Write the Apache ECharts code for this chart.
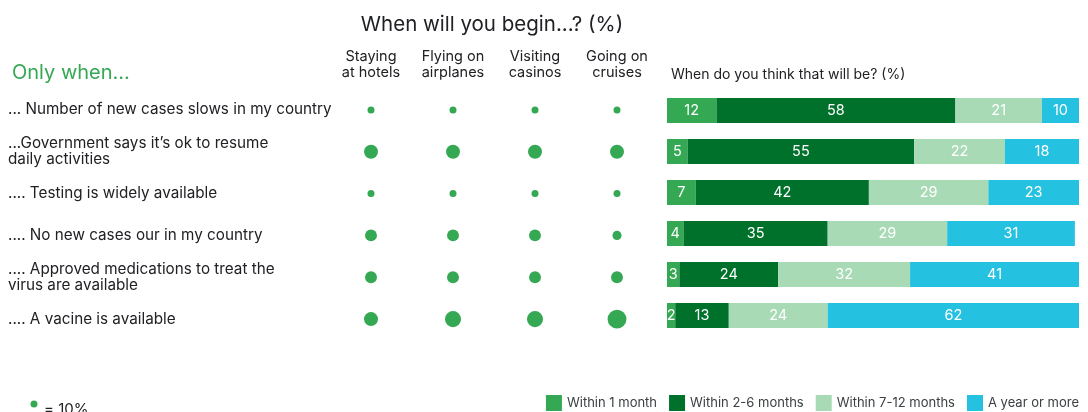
<!DOCTYPE html>
<html>
<head>
<meta charset="utf-8">
<script src="https://cdn.jsdelivr.net/npm/echarts@6/dist/echarts.min.js"></script>
<style>
  html, body { margin: 0; padding: 0; background: #fff; }
  #chart { width: 1088px; height: 412px; }
</style>
</head>
<body>
<div id="chart"></div>
<script>
// Row conditions ("Only when...")
const conditions = [
  '... Number of new cases slows in my country',
  '...Government says it\u2019s ok to resume\ndaily activities',
  '.... Testing is widely available',
  '.... No new cases our in my country',
  '.... Approved medications to treat the\nvirus are available',
  '.... A vacine is available'
];

// Activities (dot columns)
const activities = ['Staying\nat hotels', 'Flying on\nairplanes', 'Visiting\ncasinos', 'Going on\ncruises'];

// Share (%) per activity, one value per condition
const hotels    = [10, 20, 10, 17, 17, 20];
const airplanes = [10, 20, 10, 17, 17, 23];
const casinos   = [10, 20, 10, 17, 17, 23];
const cruises   = [10, 20, 10, 13, 17, 27];

// Timing (%) per condition
const timingNames = ['Within 1 month', 'Within 2-6 months', 'Within 7-12 months', 'A year or more'];
const within1   = [12,  5,  7,  4,  3,  2];
const within2_6 = [58, 55, 42, 35, 24, 13];
const within7_12= [21, 22, 29, 29, 32, 24];
const yearPlus  = [10, 18, 23, 31, 41, 62];

const GREEN = '#34a853';
const timingColors = ['#34a853', '#00712b', '#a8dab5', '#24c1e0'];
const TEXT = '#3c4043';
const FONT = 'Inter, Roboto, sans-serif';

// dot diameter grows with the share
const dotSize = v => v * 0.7;

const dotColumns = [hotels, airplanes, casinos, cruises];
const dotData = [];
dotColumns.forEach((col, ci) => col.forEach((v, ri) => dotData.push([ci, ri, v])));

const timingSeries = [within1, within2_6, within7_12, yearPlus].map((vals, i) => ({
  name: timingNames[i],
  type: 'bar',
  stack: 'timing',
  xAxisIndex: 1,
  yAxisIndex: 1,
  barWidth: 25,
  itemStyle: { color: timingColors[i] },
  label: {
    show: true,
    position: 'inside',
    color: '#fff',
    fontSize: 14.5,
    fontFamily: FONT
  },
  data: vals
}));

const chart = echarts.init(document.getElementById('chart'), null, { renderer: 'canvas' });

chart.setOption({
  animation: false,
  textStyle: { fontFamily: FONT },
  title: [
    {
      text: 'When will you begin...? (%)',
      left: 487, top: 9,
      textAlign: 'center',
      textStyle: { fontSize: 20.5, fontWeight: 'normal', color: '#202124', fontFamily: FONT }
    },
    {
      text: 'Only when...',
      left: 7, top: 58,
      textStyle: { fontSize: 20, fontWeight: 'normal', color: GREEN, fontFamily: FONT }
    },
    {
      text: 'When do you think that will be? (%)',
      left: 666, top: 63,
      textStyle: { fontSize: 14, fontWeight: 'normal', color: '#202124', fontFamily: FONT }
    }
  ],
  legend: {
    data: timingNames,
    right: 4,
    top: 390,
    itemWidth: 16,
    itemHeight: 16,
    itemGap: 12,
    icon: 'rect',
    textStyle: { fontSize: 13, color: TEXT, fontFamily: FONT, padding: [0, 0, 0, 0] }
  },
  grid: [
    { left: 330, width: 328, top: 89, height: 251 },
    { left: 667, right: 9, top: 90, height: 246 }
  ],
  xAxis: [
    {
      type: 'category',
      gridIndex: 0,
      position: 'top',
      data: activities,
      axisLine: { show: false },
      axisTick: { show: false },
      axisLabel: {
        interval: 0,
        margin: 8,
        fontSize: 14.5,
        lineHeight: 16,
        color: '#202124',
        fontFamily: FONT
      }
    },
    {
      type: 'value',
      gridIndex: 1,
      min: 0,
      max: 100,
      show: false
    }
  ],
  yAxis: [
    {
      type: 'category',
      gridIndex: 0,
      inverse: true,
      data: conditions,
      axisLine: { show: false },
      axisTick: { show: false },
      axisLabel: {
        align: 'left',
        margin: 322,
        fontSize: 15.25,
        lineHeight: 16,
        color: '#202124',
        fontFamily: FONT
      }
    },
    {
      type: 'category',
      gridIndex: 1,
      inverse: true,
      data: conditions,
      show: false
    }
  ],
  series: [
    {
      type: 'scatter',
      xAxisIndex: 0,
      yAxisIndex: 0,
      data: dotData,
      symbolSize: d => dotSize(d[2]),
      itemStyle: { color: GREEN, opacity: 1 }
    },
    ...timingSeries
  ],
  graphic: [
    {
      type: 'circle',
      shape: { cx: 34, cy: 404, r: dotSize(10) / 2 },
      style: { fill: GREEN }
    },
    {
      type: 'text',
      left: 44,
      top: 402,
      style: { text: '= 10%', fontSize: 15, fill: '#202124', fontFamily: FONT }
    }
  ]
});
</script>
</body>
</html>
